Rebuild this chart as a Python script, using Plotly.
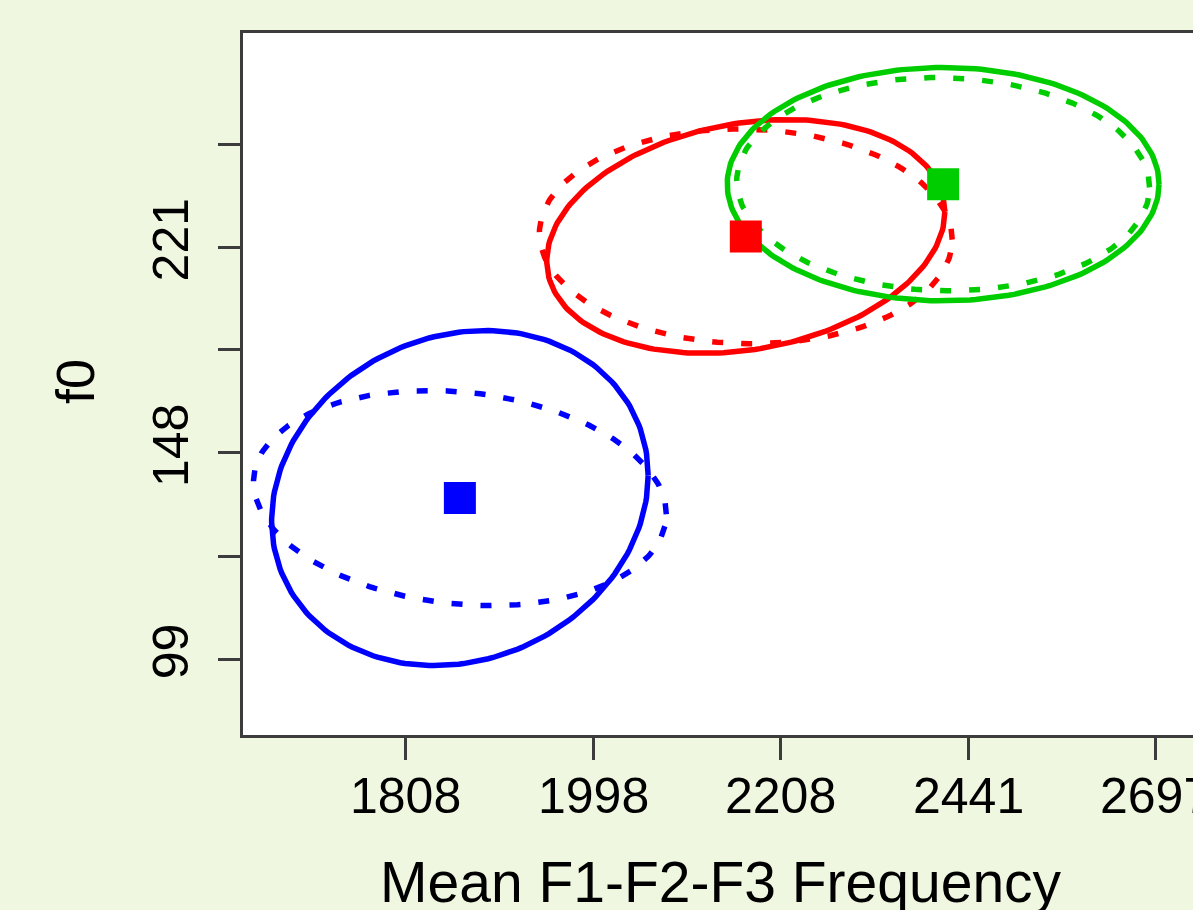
import numpy as np
import plotly.graph_objects as go

# ---------------- data ----------------
group_colors = ["#0000FF", "#FF0000", "#00CD00"]
mean_f = [1861, 2167.5, 2408]          # Mean F1-F2-F3 frequency (Hz)
mean_f0 = [135.5, 225.7, 249.9]        # f0 (Hz)

# ellipse spreads in log10 units along each axis, and correlation
solid_sd_f = [0.0436, 0.0461, 0.0500]
solid_sd_f0 = [0.1419, 0.0990, 0.0988]
solid_rho = [0.135, 0.21, 0.0]

dotted_sd_f = [0.0478, 0.0478, 0.0478]
dotted_sd_f0 = [0.0911, 0.0910, 0.0903]
dotted_rho = [-0.15, -0.03, -0.03]

x_tickvals = [1808, 1998, 2208, 2441, 2697]
x_ticktext = ["1808", "1998", "2208", "2441", "2697"]
y_tickvals = [99, 121, 148, 181, 221, 270]
y_ticktext = ["99", "", "148", "", "221", ""]

x_range_log = [3.21952, 3.43952]
y_range_log = [1.93128, 2.52579]

# ---------------- figure ----------------
FONT = "Liberation Sans, Arial, Helvetica, sans-serif"
t = np.linspace(0, 2 * np.pi, 240)


def ellipse(cx, cy, sx, sy, rho):
    phi = np.arccos(rho)
    lx = np.log10(cx) + sx * np.cos(t)
    ly = np.log10(cy) + sy * np.cos(t - phi)
    return 10 ** lx, 10 ** ly


fig = go.Figure()
for i, col in enumerate(group_colors):
    ex, ey = ellipse(mean_f[i], mean_f0[i], solid_sd_f[i], solid_sd_f0[i], solid_rho[i])
    fig.add_trace(go.Scatter(x=ex, y=ey, mode="lines",
                             line=dict(color=col, width=5.5), hoverinfo="skip"))
    dx, dy = ellipse(mean_f[i], mean_f0[i], dotted_sd_f[i], dotted_sd_f0[i], dotted_rho[i])
    fig.add_trace(go.Scatter(x=dx, y=dy, mode="lines",
                             line=dict(color=col, width=5.5, dash="11px,18px"),
                             hoverinfo="skip"))

fig.add_trace(go.Scatter(x=mean_f, y=mean_f0, mode="markers",
                         marker=dict(symbol="square", size=32, color=group_colors,
                                     line=dict(width=0)),
                         hoverinfo="skip"))

axis_col = "#3c3c3c"
annotations = [
    dict(text="Mean F1-F2-F3 Frequency", xref="paper", yref="paper",
         x=(721 - 243) / 950, y=(735 - 882) / 702,
         xanchor="center", yanchor="middle", showarrow=False,
         font=dict(size=57, family=FONT, color="#000")),
    dict(text="f0", xref="paper", yref="paper",
         x=(75 - 243) / 950, y=(735 - 382) / 702,
         xanchor="center", yanchor="middle", showarrow=False, textangle=-90,
         font=dict(size=54, family=FONT, color="#000")),
]
# x tick labels (drawn as text at the tick positions so the last one is cut
# at the page edge like the reference)
for v, s in zip(x_tickvals, x_ticktext):
    annotations.append(dict(text=s, xref="x", yref="paper", x=np.log10(v),
                            y=(735 - 796) / 702, xanchor="center", yanchor="middle",
                            showarrow=False,
                            font=dict(size=50, family=FONT, color="#000")))

fig.update_layout(
    width=1193, height=910,
    margin=dict(l=243, r=0, t=33, b=175),
    paper_bgcolor="#F0F7E1",
    plot_bgcolor="#FFFFFF",
    showlegend=False,
    font=dict(family=FONT, color="#000000"),
    xaxis=dict(type="log", range=x_range_log, tickmode="array",
               tickvals=x_tickvals, ticktext=x_ticktext, showticklabels=False,
               showgrid=False, zeroline=False,
               showline=True, linecolor=axis_col, linewidth=2.5, mirror=True,
               ticks="outside", ticklen=22, tickwidth=2.5, tickcolor=axis_col),
    yaxis=dict(type="log", range=y_range_log, tickmode="array",
               tickvals=y_tickvals, ticktext=y_ticktext,
               showgrid=False, zeroline=False,
               showline=True, linecolor=axis_col, linewidth=2.5, mirror=False,
               ticks="outside", ticklen=22, tickwidth=2.5, tickcolor=axis_col,
               tickangle=-90,
               tickfont=dict(size=50, family=FONT, color="#000"),
               ticklabelstandoff=10),
    annotations=annotations,
)

fig.write_html("out.html", config={"displayModeBar": False})
